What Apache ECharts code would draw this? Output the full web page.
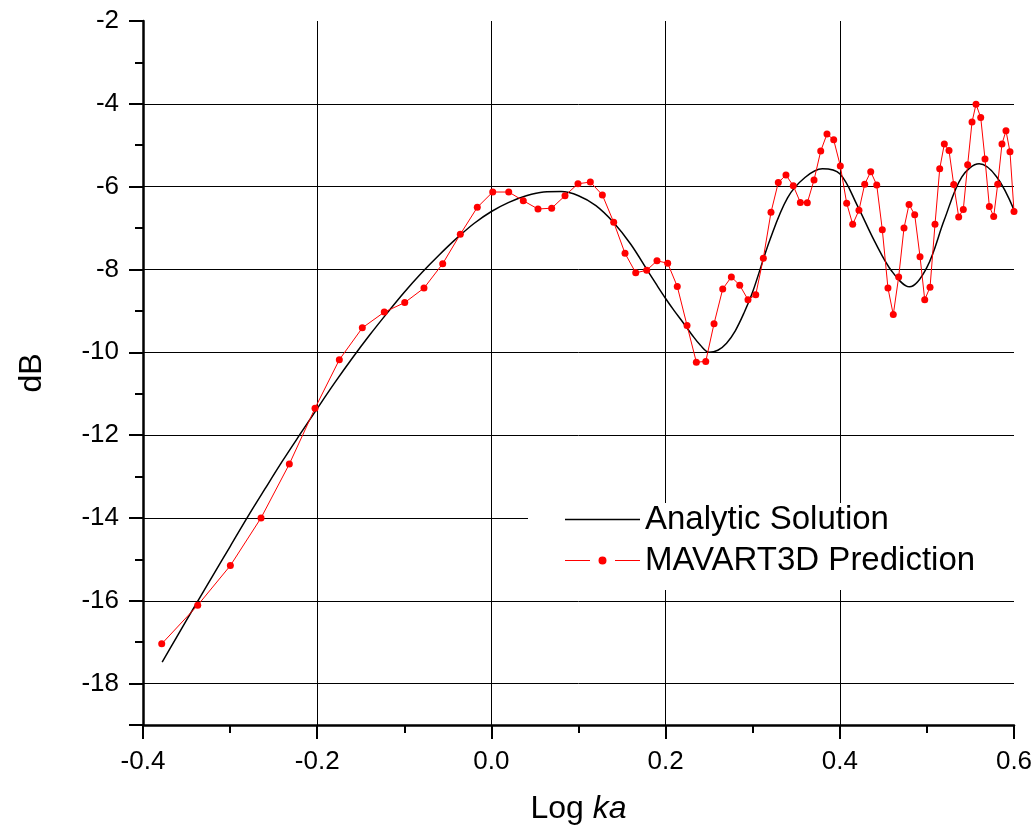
<!DOCTYPE html>
<html>
<head>
<meta charset="utf-8">
<script src="https://cdn.jsdelivr.net/npm/echarts@6/dist/echarts.min.js"></script>
<style>
  html, body { margin: 0; padding: 0; background: #fff; }
  #chart { width: 1036px; height: 830px; }
</style>
</head>
<body>
<div id="chart"></div>
<script>
// Measured response, dB versus log10(ka)
const predLogKa = [
  -0.3785, -0.3372, -0.2997, -0.2645, -0.2320, -0.2025, -0.1746, -0.1482, -0.1230, -0.0995,
  -0.0774, -0.0559, -0.0357, -0.0162, 0.0015, 0.0199, 0.0366, 0.0535, 0.0692, 0.0845,
  0.0994, 0.1136, 0.1274, 0.1404, 0.1534, 0.1657, 0.1783, 0.1901, 0.2024, 0.2134,
  0.2246, 0.2353, 0.2461, 0.2556, 0.2656, 0.2755, 0.2851, 0.2946, 0.3035, 0.3122,
  0.3210, 0.3294, 0.3382, 0.3466, 0.3547, 0.3627, 0.3704, 0.3781, 0.3853, 0.3930,
  0.4006, 0.4079, 0.4148, 0.4220, 0.4286, 0.4355, 0.4424, 0.4488, 0.4553, 0.4614,
  0.4676, 0.4737, 0.4795, 0.4860, 0.4921, 0.4975, 0.5036, 0.5093, 0.5147, 0.5200,
  0.5254, 0.5308, 0.5365, 0.5418, 0.5468, 0.5518, 0.5564, 0.5618, 0.5667, 0.5717,
  0.5767, 0.5813, 0.5862, 0.5908, 0.5954, 0.6000
];
const predDb = [
  -17.04, -16.11, -15.15, -14.00, -12.70, -11.35, -10.18, -9.41, -9.03, -8.80,
  -8.45, -7.86, -7.15, -6.50, -6.13, -6.13, -6.34, -6.54, -6.52, -6.22,
  -5.93, -5.89, -6.20, -6.86, -7.61, -8.08, -8.02, -7.79, -7.85, -8.41,
  -9.35, -10.24, -10.22, -9.31, -8.47, -8.18, -8.38, -8.73, -8.61, -7.73,
  -6.62, -5.90, -5.72, -5.98, -6.38, -6.39, -5.84, -5.14, -4.73, -4.87,
  -5.50, -6.40, -6.91, -6.57, -5.94, -5.64, -5.96, -7.04, -8.45, -9.09,
  -8.18, -7.00, -6.43, -6.68, -7.69, -8.73, -8.43, -6.91, -5.57, -4.97,
  -5.13, -5.95, -6.73, -6.55, -5.47, -4.44, -4.01, -4.33, -5.33, -6.48,
  -6.72, -5.94, -4.97, -4.65, -5.16, -6.60
];

// Analytic curve samples
const analyticLogKa = [
  -0.378, -0.36, -0.34, -0.32, -0.30, -0.28, -0.26, -0.24, -0.22, -0.20,
  -0.18, -0.16, -0.14, -0.12, -0.10, -0.08, -0.06, -0.04, -0.02, 0.00,
  0.02, 0.04, 0.06, 0.08, 0.10, 0.12, 0.14, 0.16, 0.18, 0.19,
  0.20, 0.21, 0.22, 0.23, 0.24, 0.25, 0.26, 0.27, 0.28, 0.29,
  0.30, 0.32, 0.34, 0.36, 0.38, 0.40, 0.42, 0.44, 0.46, 0.48,
  0.50, 0.52, 0.54, 0.56, 0.58, 0.60
];
const analyticDb = [
  -17.48, -16.83, -16.11, -15.40, -14.69, -13.98, -13.30, -12.63, -11.99, -11.36,
  -10.74, -10.15, -9.59, -9.06, -8.55, -8.08, -7.65, -7.25, -6.89, -6.60,
  -6.38, -6.22, -6.13, -6.12, -6.22, -6.46, -6.86, -7.39, -8.05, -8.38,
  -8.70, -9.00, -9.28, -9.57, -9.83, -10.00, -9.95, -9.78, -9.48, -9.05,
  -8.54, -7.27, -6.27, -5.78, -5.57, -5.69, -6.45, -7.32, -8.05, -8.42,
  -7.95, -6.80, -5.77, -5.45, -5.76, -6.56
];

const seriesNames = ['Analytic Solution', 'MAVART3D Prediction'];

const FONT = '"Liberation Sans", Arial, sans-serif';
const zip = (xs, ys) => xs.map((x, i) => [x, ys[i]]);

const chart = echarts.init(document.getElementById('chart'), null, { renderer: 'canvas' });

chart.setOption({
  backgroundColor: '#ffffff',
  animation: false,
  textStyle: { fontFamily: FONT, color: '#000' },
  grid: { left: 143, right: 22, top: 21, bottom: 105, containLabel: false },
  legend: {
    orient: 'vertical',
    left: 528,
    top: 503,
    padding: [0, 40, 13, 37],
    backgroundColor: '#ffffff',
    itemWidth: 75,
    itemHeight: 8,
    itemGap: 8,
    selectedMode: false,
    symbolKeepAspect: true,
    textStyle: { fontFamily: FONT, fontSize: 33, color: '#000' },
    data: [
      {
        name: seriesNames[0],
        icon: 'path://M0,3.25h75v1.5h-75z',
        itemStyle: { color: '#000', borderWidth: 0 }
      },
      {
        name: seriesNames[1],
        icon: 'path://M0,3.5h25v1h-25z M50,3.5h25v1h-25z M33.5,4a4,4 0 1,0 8,0a4,4 0 1,0 -8,0z',
        itemStyle: { borderWidth: 0 }
      }
    ]
  },
  xAxis: {
    type: 'value',
    min: -0.4,
    max: 0.6,
    interval: 0.2,
    name: '{n|Log }{i|ka}',
    nameLocation: 'middle',
    nameGap: 68,
    nameTextStyle: {
      fontFamily: FONT, fontSize: 32, color: '#000',
      rich: {
        n: { fontFamily: FONT, fontSize: 32, color: '#000' },
        i: { fontFamily: FONT, fontSize: 32, color: '#000', fontStyle: 'italic' }
      }
    },
    axisLine: { show: true, onZero: false, lineStyle: { color: '#000', width: 2.5 } },
    axisTick: { show: true, inside: false, length: 14, lineStyle: { color: '#000', width: 2 } },
    minorTick: { show: true, splitNumber: 2, length: 8, lineStyle: { color: '#000', width: 2 } },
    axisLabel: {
      fontFamily: FONT, fontSize: 26, color: '#000', margin: 24,
      formatter: v => v.toFixed(1)
    },
    splitLine: {
      show: true, showMinLine: false, showMaxLine: false,
      lineStyle: { color: '#000', width: 1 }
    }
  },
  yAxis: {
    type: 'value',
    min: -19,
    max: -2,
    splitNumber: 8,
    name: 'dB',
    nameLocation: 'middle',
    nameGap: 95,
    nameRotate: 90,
    nameTextStyle: { fontFamily: FONT, fontSize: 32, color: '#000' },
    axisLine: { show: true, onZero: false, lineStyle: { color: '#000', width: 2.5 } },
    axisTick: { show: true, inside: false, length: 14, lineStyle: { color: '#000', width: 2 } },
    minorTick: { show: true, splitNumber: 2, length: 8, lineStyle: { color: '#000', width: 2 } },
    axisLabel: {
      fontFamily: FONT, fontSize: 26, color: '#000', margin: 24,
      showMinLabel: false
    },
    splitLine: {
      show: true, showMinLine: false, showMaxLine: false,
      lineStyle: { color: '#000', width: 1 }
    }
  },
  series: [
    {
      name: seriesNames[0],
      type: 'line',
      data: zip(analyticLogKa, analyticDb),
      smooth: 0.35,
      symbol: 'none',
      showSymbol: false,
      lineStyle: { color: '#000', width: 1.5 },
      itemStyle: { color: '#000' },
      z: 3
    },
    {
      name: seriesNames[1],
      type: 'line',
      data: zip(predLogKa, predDb),
      symbol: 'circle',
      symbolSize: 7,
      showSymbol: true,
      lineStyle: { color: '#ff0000', width: 1 },
      itemStyle: { color: '#ff0000', borderWidth: 0 },
      z: 4
    }
  ]
});
</script>
</body>
</html>
